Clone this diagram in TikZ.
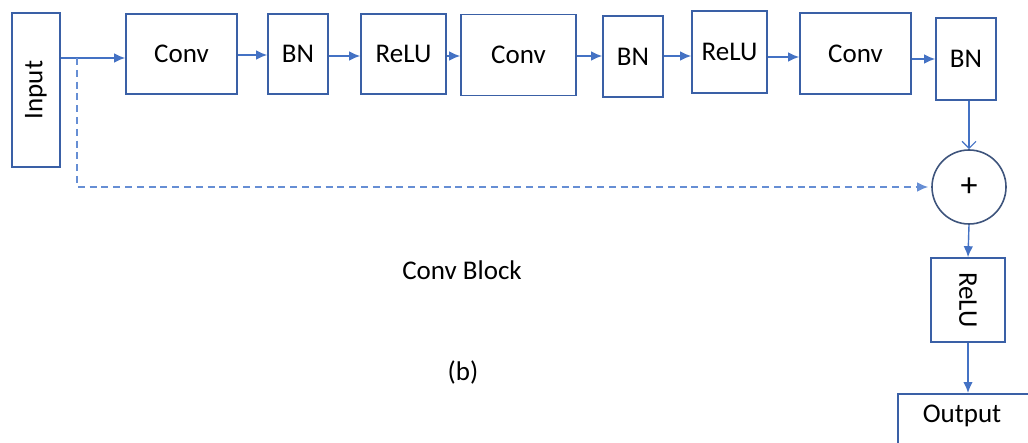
\documentclass[tikz,border=0pt]{standalone}
\usepackage{fontspec}
\setmainfont{Carlito}
\usetikzlibrary{arrows.meta,calc}
\definecolor{boxc}{RGB}{58,96,166}
\definecolor{arrc}{RGB}{68,114,196}
\definecolor{dashc}{RGB}{102,142,212}
\definecolor{circc}{RGB}{62,84,124}
\begin{document}
\begin{tikzpicture}[x=0.5pt,y=-0.5pt,
  every node/.style={font=\fontsize{13.5}{16}\selectfont, inner sep=0pt},
  blk/.style={draw=boxc, line width=0.8pt, rectangle},
  arr/.style={draw=arrc, line width=0.7pt, -{Latex[length=5.5pt,width=4.8pt]}},
  barb/.style={draw=arrc, line width=0.6pt, -{Straight Barb[length=3.5pt,width=7pt]}},
  dsh/.style={draw=dashc, line width=0.8pt, dash pattern=on 3.5pt off 2.4pt, -{Latex[length=5.5pt,width=4.8pt]}}]
\clip (0,0) rectangle (1028,443);
\node[blk, minimum width=24pt, minimum height=77pt] (in) at (36,90) {\rotatebox{90}{Input}};
\node[blk, minimum width=55.5pt, minimum height=40pt] (c1) at (181.5,54) {Conv};
\node[blk, minimum width=30pt, minimum height=40pt] (b1) at (298,54) {BN};
\node[blk, minimum width=42.5pt, minimum height=40pt] (r1) at (403.5,54) {ReLU};
\node[blk, minimum width=57.5pt, minimum height=40.5pt] (c2) at (518.5,55) {Conv};
\node[blk, minimum width=30pt, minimum height=40.5pt] (b2) at (633,56.5) {BN};
\node[blk, minimum width=37.5pt, minimum height=41pt] (r2) at (729.5,52) {ReLU};
\node[blk, minimum width=55.5pt, minimum height=40.5pt] (c3) at (855.5,53.5) {Conv};
\node[blk, minimum width=30pt, minimum height=41pt] (b3) at (966,59) {BN};
\node[circle, draw=circc, line width=0.8pt, minimum size=37pt, font=\fontsize{17}{18}\selectfont] (plus) at (969,187) {+};
\node[blk, minimum width=37pt, minimum height=42pt] (r3) at (968,300) {\rotatebox{-90}{ReLU}};
\node[blk, minimum width=71pt, minimum height=28pt, anchor=north west] (out) at (897,393) {};
\node (outt) at (962,416) {Output};
\node (title) at (462,270) {Conv Block};
\node (lab) at (463,372) {(b)};
\coordinate (br) at (77,58);
\draw[arr] (in.east |- br) -- (c1.west |- br);
\draw[arr] (c1.east |- 0,55) -- (b1.west |- 0,55);
\draw[arr] (b1.east |- 0,56) -- (r1.west |- 0,56);
\draw[arr] (r1.east |- 0,56) -- (c2.west |- 0,56);
\draw[arr] (c2.east |- 0,56) -- (b2.west |- 0,56);
\draw[arr] (b2.east |- 0,56) -- (r2.west |- 0,56);
\draw[arr] (r2.east |- 0,57) -- (c3.west |- 0,57);
\draw[arr] (c3.east |- 0,59) -- (b3.west |- 0,59);
\draw[dsh, shorten >=1.5pt] (br) |- (plus.west);
\draw[barb] (b3.south -| plus) -- (plus.north);
\draw[arr] (plus.south) -- (r3.north);
\draw[arr] (r3.south) -- (r3.south |- out.north);
\end{tikzpicture}
\end{document}
